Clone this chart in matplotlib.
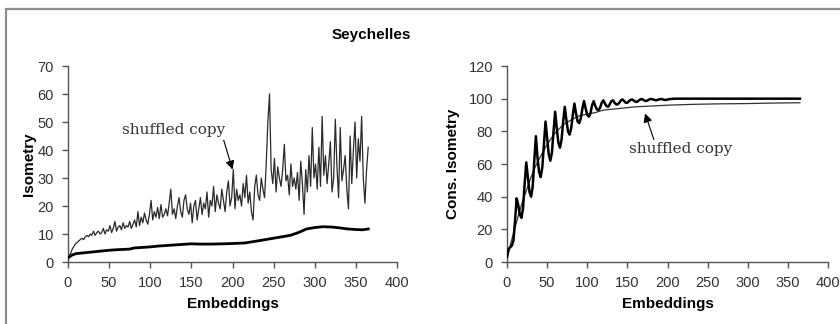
import matplotlib
matplotlib.use("Agg")
import matplotlib.pyplot as plt
from matplotlib.patches import Rectangle

# ---------------- data ----------------
# Left panel: Isometry
iso_x = [0, 5, 10, 20, 30, 40, 50, 60, 75, 80, 90, 100, 110, 125, 140, 150, 160, 175,
         190, 200, 215, 230, 240, 250, 260, 270, 280, 290, 300, 310, 320, 330, 340, 350, 358, 365]
iso_main = [1.5, 2.5, 3.0, 3.3, 3.6, 3.9, 4.2, 4.4, 4.6, 5.0, 5.2, 5.4, 5.7, 6.0, 6.3, 6.5, 6.4, 6.4,
            6.5, 6.6, 6.8, 7.5, 8.0, 8.5, 9.0, 9.5, 10.5, 11.8, 12.3, 12.6, 12.5, 12.2, 11.8, 11.6, 11.5, 11.8]

shuf_x = list(range(1, 366, 2))
shuf_iso = [
    1.5, 3, 4.5, 5.5, 6.5, 7, 7.5, 8, 8.5, 8, 9, 9.5, 9, 10, 9.5, 11, 9.5, 10.5, 11, 10,
    10.5, 12, 10, 11.5, 11, 13, 10.5, 12, 14.5, 11, 12.5, 13, 11.5, 14, 12, 13, 12.5, 14.5, 12, 13.5,
    15, 12.5, 18, 13, 16, 14, 17.5, 15, 13.5, 17, 22, 15, 18, 16, 19.5, 15.5, 20.5, 16, 17, 19,
    16.5, 21, 26, 17, 19, 15.5, 20, 23, 18, 16, 22, 24, 19, 17, 21, 14, 20, 22, 15, 19,
    23, 17, 21, 19, 25, 16, 22, 20, 27, 18, 24, 21, 19, 26, 22, 18, 25, 29, 20, 23,
    33, 19, 26, 22, 24, 20, 28, 23, 31, 21, 25, 18, 15, 27, 31, 24, 22, 30, 26, 23,
    35, 50, 60, 33, 28, 37, 25, 34, 30, 27, 33, 42, 29, 31, 24, 35, 27, 30, 26, 32,
    22, 36, 28, 17, 33, 25, 38, 27, 48, 30, 35, 26, 41, 27, 52, 31, 38, 28, 35, 43,
    25, 30, 51, 34, 23, 48, 29, 33, 38, 26, 19, 45, 28, 40, 50, 30, 44, 36, 52, 30,
    21, 33, 41,
]

# Right panel: Cons. Isometry
cons_x = [0, 2, 4, 6, 8, 10, 12, 14, 16, 18, 20, 22, 24, 26, 28, 30, 32, 34, 36, 38,
          40, 42, 44, 46, 48, 50, 52, 54, 56, 58, 60, 62, 64, 66, 68, 70, 72, 74, 76, 78,
          80, 82, 84, 86, 88, 90, 92, 94, 96, 98, 100, 102, 104, 106, 108, 110, 112, 114,
          116, 118, 120, 122, 124, 126, 128, 130, 132, 134, 136, 138, 140, 142, 144, 146,
          148, 150, 152, 154, 156, 158, 160, 162, 164, 166, 168, 170, 172, 174, 176, 178,
          180, 184, 186, 190, 192, 196, 198, 202, 204, 210, 365]
cons_main = [3, 8, 9, 10, 13, 25, 39, 35, 29, 27, 33, 48, 61, 52, 43, 40, 46, 62, 77, 64,
             55, 52, 58, 72, 86, 76, 66, 62, 67, 80, 92, 82, 73, 70, 75, 86, 95, 87, 80, 78,
             82, 90, 97, 91, 86, 85, 88, 94, 98.5, 94, 90, 89, 91, 96, 98.5, 95.5, 93.5, 93,
             94.5, 97.5, 99, 97, 95.5, 95, 96.5, 98.5, 99, 97.5, 96.5, 96.5, 97.5, 99, 99.5, 98.5,
             97.5, 97.5, 98.5, 99.3, 99.5, 98.8, 98.2, 98, 98.8, 99.5, 99.8, 99.2, 98.7, 98.6, 99.2, 99.7,
             99.8, 99.2, 99, 99.6, 99.8, 99.3, 99.2, 99.7, 99.8, 100, 100]

shuf_cons_x = [0, 5, 10, 15, 20, 25, 30, 35, 40, 50, 60, 70, 80, 90, 100, 110, 120, 130,
               140, 150, 160, 180, 200, 230, 260, 300, 330, 365]
shuf_cons = [2, 12, 21, 30, 38, 45, 52, 58, 63, 72, 79, 84, 87, 89.5, 90.5, 91.5, 93, 93.5,
             94, 94.5, 95, 95.5, 96, 96.5, 96.8, 97, 97.3, 97.5]

x_ticks = [0, 50, 100, 150, 200, 250, 300, 350, 400]
left_yticks = [0, 10, 20, 30, 40, 50, 60, 70]
right_yticks = [0, 20, 40, 60, 80, 100, 120]

# ---------------- figure ----------------
W, H = 840, 324
fig = plt.figure(figsize=(W / 100, H / 100), dpi=100)
fig.patch.set_facecolor("white")

fig.patches.append(Rectangle((6 / W, -0.2), 1.2, 1.2 - 9 / H, transform=fig.transFigure,
                             fill=False, edgecolor="#8c8c8c", linewidth=1.6, zorder=0))

def px_ax(x0, x1, y_top, y_bot):
    return [x0 / W, 1 - y_bot / H, (x1 - x0) / W, (y_bot - y_top) / H]

axL = fig.add_axes(px_ax(68, 397, 66, 262))
axR = fig.add_axes(px_ax(507, 828, 66, 262))

tick_font = dict(family="Liberation Sans", size=10.5, color="#333333")
lab_font = dict(family="Liberation Sans", size=11, weight="bold")

for ax, yt, ylab, lp in [(axL, left_yticks, "Isometry", 1), (axR, right_yticks, "Cons. Isometry", 6)]:
    for s in ["top", "right"]:
        ax.spines[s].set_visible(False)
    for s in ["left", "bottom"]:
        ax.spines[s].set_color("#555555")
        ax.spines[s].set_linewidth(1.0)
    ax.set_xlim(0, 400)
    ax.set_ylim(yt[0], yt[-1])
    ax.set_xticks(x_ticks)
    ax.set_yticks(yt)
    ax.set_xticklabels([str(v) for v in x_ticks], fontdict=tick_font)
    ax.set_yticklabels([str(v) for v in yt], fontdict=tick_font)
    ax.tick_params(direction="out", length=4, width=1.0, color="#555555", pad=6)
    ax.set_xlabel("Embeddings", fontdict=lab_font, labelpad=5)
    ax.set_ylabel(ylab, fontdict=lab_font, labelpad=lp)

# left panel
axL.plot(shuf_x, shuf_iso, color="#2a2a2a", lw=0.9, zorder=2)
axL.plot(iso_x, iso_main, color="black", lw=2.0, zorder=3)
axL.annotate("shuffled copy", xy=(200, 33), xytext=(66, 47),
             fontsize=11, family="DejaVu Serif", color="#333333", va="center",
             arrowprops=dict(arrowstyle="-|>", color="black", lw=0.8, mutation_scale=13,
                             shrinkA=0, shrinkB=0, relpos=(0.97, 0.1)))

# right panel
axR.plot(shuf_cons_x, shuf_cons, color="#333333", lw=0.9, zorder=2)
axR.plot(cons_x, cons_main, color="black", lw=1.8, zorder=3)
axR.annotate("shuffled copy", xy=(172, 91), xytext=(152, 69),
             fontsize=11, family="DejaVu Serif", color="#333333", va="center",
             arrowprops=dict(arrowstyle="-|>", color="black", lw=0.8, mutation_scale=13,
                             shrinkA=0, shrinkB=0, relpos=(0.25, 1.0)))

fig.text(371 / W, 1 - 35 / H, "Seychelles", ha="center", va="center",
         family="Liberation Sans", size=11, weight="bold")

fig.savefig("out.png", dpi=100)
